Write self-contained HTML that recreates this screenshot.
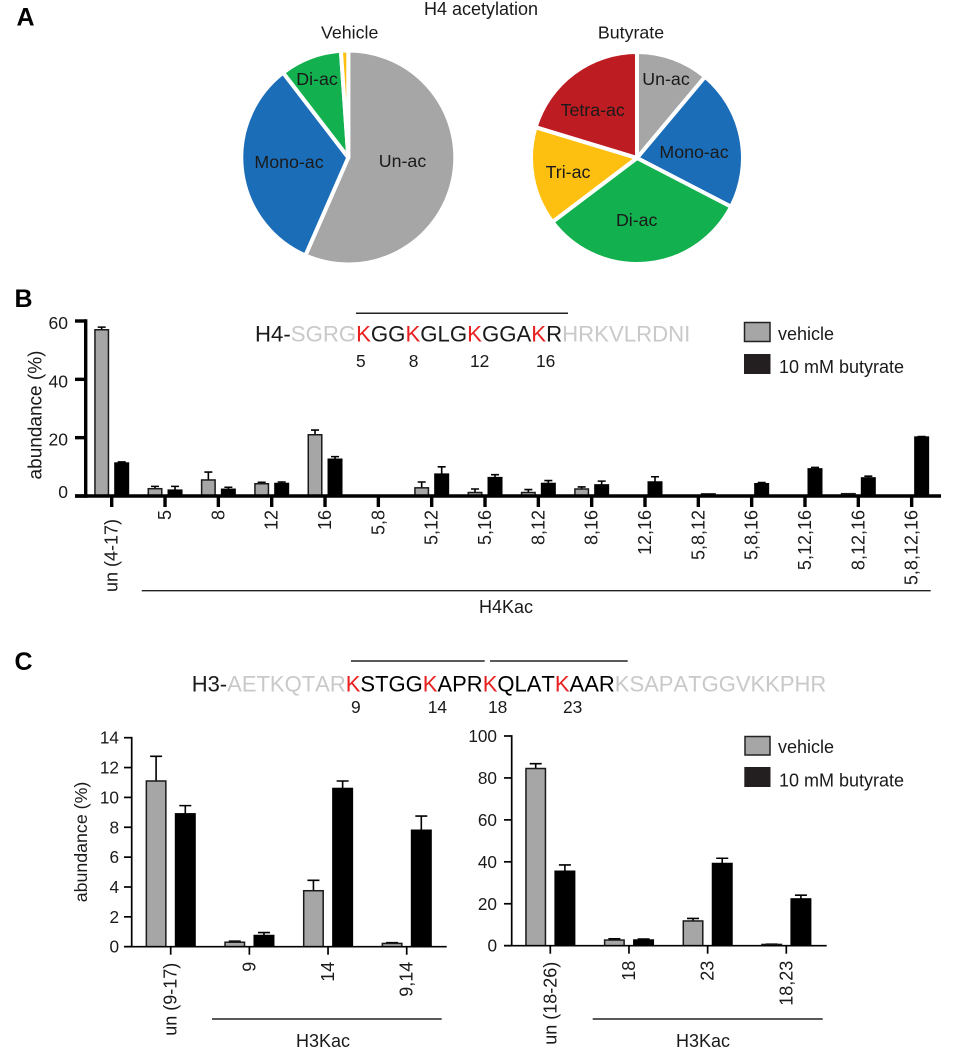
<!DOCTYPE html>
<html>
<head>
<meta charset="utf-8">
<style>
html,body{margin:0;padding:0;background:#fff;}
svg{display:block;filter:blur(0.35px);}
text{font-family:"Liberation Sans",Arial,sans-serif;fill:#1a1a1a;}
.seq{font-kerning:none;}
</style>
</head>
<body>
<svg id="fig" width="966" height="1050" viewBox="0 0 966 1050" xmlns="http://www.w3.org/2000/svg">
<text x="16.5" y="25.7" font-size="25" font-weight="bold" style="fill:#000">A</text>
<text x="14.5" y="307" font-size="25" font-weight="bold" style="fill:#000">B</text>
<text x="14.5" y="670" font-size="25" font-weight="bold" style="fill:#000">C</text>

<text x="481" y="15" font-size="18" text-anchor="middle">H4 acetylation</text>
<text x="349.7" y="38.3" font-size="17.8" text-anchor="middle">Vehicle</text>
<text x="631" y="38.3" font-size="17.8" text-anchor="middle">Butyrate</text>
<g id="pies"></g>
<g font-size="17.8" text-anchor="middle">
<text x="402.5" y="167">Un-ac</text>
<text x="289" y="168">Mono-ac</text>
<text x="317" y="85">Di-ac</text>
<text x="666" y="85">Un-ac</text>
<text x="694" y="158">Mono-ac</text>
<text x="636.7" y="226">Di-ac</text>
<text x="568" y="178">Tri-ac</text>
<text x="592.7" y="116">Tetra-ac</text>
</g>

<line x1="356" y1="313.3" x2="568" y2="313.3" stroke="#222" stroke-width="1.5"/>
<text class="seq" x="255" y="341.7" font-size="22.2"><tspan>H4-</tspan><tspan style="fill:#c9c9c9">SGRG</tspan><tspan style="fill:#e8201f">K</tspan><tspan>GG</tspan><tspan style="fill:#e8201f">K</tspan><tspan>GLG</tspan><tspan style="fill:#e8201f">K</tspan><tspan>GGA</tspan><tspan style="fill:#e8201f">K</tspan><tspan>R</tspan><tspan style="fill:#c9c9c9">HRKVLRDNI</tspan></text>
<g font-size="17.4">
<text x="356" y="367">5</text>
<text x="408.7" y="367">8</text>
<text x="470" y="367">12</text>
<text x="536" y="367">16</text>
</g>
<g>
<rect x="744.5" y="322.5" width="25.5" height="19" fill="#a6a6a6" stroke="#222" stroke-width="1.5"/>
<text x="778" y="340" font-size="18">vehicle</text>
<rect x="744" y="354" width="26.5" height="20" fill="#231f20"/>
<text x="779" y="373" font-size="18">10 mM butyrate</text>
</g>
<g id="chartB"></g>
<text transform="translate(41.7,415) rotate(-90)" font-size="19" text-anchor="middle">abundance (%)</text>
<line x1="141.7" y1="590.7" x2="930.7" y2="590.7" stroke="#222" stroke-width="1.4"/>
<text x="506" y="613" font-size="18" text-anchor="middle">H4Kac</text>

<line x1="351" y1="661" x2="484.7" y2="661" stroke="#222" stroke-width="1.4"/>
<line x1="490" y1="661" x2="627.7" y2="661" stroke="#222" stroke-width="1.4"/>
<text class="seq" x="191.7" y="691.7" font-size="22"><tspan>H3-</tspan><tspan style="fill:#c9c9c9">AETKQTAR</tspan><tspan style="fill:#e8201f">K</tspan><tspan style="fill:#000">STGG</tspan><tspan style="fill:#e8201f">K</tspan><tspan style="fill:#000">APR</tspan><tspan style="fill:#e8201f">K</tspan><tspan style="fill:#000">QLAT</tspan><tspan style="fill:#e8201f">K</tspan><tspan style="fill:#000">AAR</tspan><tspan style="fill:#c9c9c9">KSAPATGGVKKPHR</tspan></text>
<g font-size="17.4">
<text x="351" y="713">9</text>
<text x="427.7" y="713">14</text>
<text x="488" y="713">18</text>
<text x="563" y="713">23</text>
</g>
<g>
<rect x="745" y="736.5" width="25" height="18.5" fill="#a6a6a6" stroke="#222" stroke-width="1.5"/>
<text x="778" y="753" font-size="18">vehicle</text>
<rect x="744.3" y="767" width="26.2" height="20" fill="#231f20"/>
<text x="779" y="786.7" font-size="18">10 mM butyrate</text>
</g>
<g id="chartCL"></g>
<text transform="translate(87,842) rotate(-90)" font-size="17.8" text-anchor="middle">abundance (%)</text>
<line x1="212" y1="1019" x2="441.7" y2="1019" stroke="#222" stroke-width="1.4"/>
<text x="323" y="1047" font-size="18" text-anchor="middle">H3Kac</text>
<g id="chartCR"></g>
<line x1="592.7" y1="1019" x2="822.7" y2="1019" stroke="#222" stroke-width="1.4"/>
<text x="703" y="1047" font-size="18" text-anchor="middle">H3Kac</text>
</svg>
<script>
// Pie data (percent)
const pieVehicleValues = [56.4, 32.9, 9.3, 1.1];
const pieButyrateValues = [11.1, 21.5, 32.1, 15.0, 20.3];
const pieNames = ['un-ac', 'mono-ac', 'di-ac', 'tri-ac', 'tetra-ac'];
const pieColors = ['#a6a6a6', '#1b6db8', '#12b04e', '#fdc010', '#bd1c22'];

// Panel B data
const bCategories = ['un (4-17)', '5', '8', '12', '16', '5,8', '5,12', '5,16', '8,12', '8,16', '12,16', '5,8,12', '5,8,16', '5,12,16', '8,12,16', '5,8,12,16'];
const bVehicle = [57, 2.5, 5.5, 4.2, 21, 0, 2.8, 1.2, 1.2, 2.4, 0.2, 0.2, 0.1, 0, 0.8, 0.2];
const bVehicleErr = [0.9, 0.8, 2.7, 0.5, 1.6, 0, 2, 1.2, 1, 0.7, 0, 0, 0, 0, 0, 0];
const bButyrate = [11.3, 2, 2.3, 4.3, 12.6, 0, 7.5, 6.3, 4.3, 3.8, 4.8, 0.7, 4.2, 9.3, 6.2, 20.2];
const bButyrateErr = [0.4, 1.3, 0.7, 0.5, 0.9, 0, 2.5, 1, 1, 1.3, 1.8, 0, 0.4, 0.5, 0.6, 0.2];
const bTicks = [0, 20, 40, 60];

// Panel C left data
const clCategories = ['un (9-17)', '9', '14', '9,14'];
const clVehicle = [11.1, 0.3, 3.75, 0.22];
const clVehicleErr = [1.65, 0.07, 0.7, 0.05];
const clButyrate = [8.9, 0.75, 10.6, 7.8];
const clButyrateErr = [0.55, 0.2, 0.5, 0.95];
const clTicks = [0, 2, 4, 6, 8, 10, 12, 14];

// Panel C right data
const crCategories = ['un (18-26)', '18', '23', '18,23'];
const crVehicle = [84.5, 2.7, 11.8, 0.6];
const crVehicleErr = [2.3, 0.6, 1.2, 0.1];
const crButyrate = [35.5, 2.7, 39.2, 22.3];
const crButyrateErr = [3, 0.5, 2.5, 1.8];
const crTicks = [0, 20, 40, 60, 80, 100];

const NS = 'http://www.w3.org/2000/svg';
function make(parent, tag, attrs) {
  const el = document.createElementNS(NS, tag);
  for (const k in attrs) el.setAttribute(k, attrs[k]);
  parent.appendChild(el);
  return el;
}

function drawPie(parent, cx, cy, r, values, label) {
  const total = values.reduce((a, b) => a + b, 0);
  let acc = 0;
  values.forEach((v, i) => {
    const a0 = acc / total * 2 * Math.PI;
    acc += v;
    const a1 = acc / total * 2 * Math.PI;
    const x0 = cx + r * Math.sin(a0), y0 = cy - r * Math.cos(a0);
    const x1 = cx + r * Math.sin(a1), y1 = cy - r * Math.cos(a1);
    const large = a1 - a0 > Math.PI ? 1 : 0;
    const p = make(parent, 'path', {
      d: `M${cx} ${cy}L${x0} ${y0}A${r} ${r} 0 ${large} 1 ${x1} ${y1}Z`,
      fill: pieColors[i], stroke: '#fff', 'stroke-width': 4, 'stroke-linejoin': 'round'
    });
    
    
  });
}

const pies = document.getElementById('pies');
drawPie(pies, 348.3, 157.5, 107, pieVehicleValues, 'vehicle');
drawPie(pies, 637, 158, 106, pieButyrateValues, 'butyrate');

function drawBars(cfg) {
  const g = cfg.group;
  const y = v => cfg.y0 - v * cfg.pxPerUnit;
  const x = i => cfg.x0 + i * cfg.step;
  const sw = cfg.axisWidth;

  function drawBar(i, off, val, err, fill, stroke, name) {
    const cx = x(i) + off, w = cfg.barW;
    if (err > 0) {
      const e = make(g, 'path', {
        d: `M${cx} ${y(val)}V${y(val + err)}M${cx - cfg.capW / 2} ${y(val + err)}H${cx + cfg.capW / 2}`,
        stroke: '#000', 'stroke-width': cfg.errW, fill: 'none'
      });
      
      
    }
    const b = make(g, 'rect', {
      x: cx - w / 2, y: y(val), width: w, height: Math.max(cfg.y0 - y(val), 0),
      fill: fill, stroke: stroke, 'stroke-width': 1.5
    });
    
    
  }

  cfg.categories.forEach((c, i) => {
    drawBar(i, -cfg.off, cfg.vehicle[i], cfg.vehicleErr[i], '#a6a6a6', '#1a1a1a', 'vehicle');
    drawBar(i, cfg.off, cfg.butyrate[i], cfg.butyrateErr[i], '#000', '#000', 'butyrate');
  });

  const yAxis = make(g, 'line', {
    x1: cfg.axisX, x2: cfg.axisX, y1: y(cfg.ticks[cfg.ticks.length - 1]) - sw / 2, y2: cfg.y0 + sw / 2,
    stroke: '#000', 'stroke-width': sw
  });
  
  
  const xAxis = make(g, 'line', {
    x1: cfg.tickLeft, x2: cfg.xEnd, y1: cfg.y0, y2: cfg.y0, stroke: '#000', 'stroke-width': sw
  });
  
  

  cfg.ticks.forEach(t => {
    const tick = make(g, 'line', {
      x1: cfg.tickLeft, x2: cfg.axisX, y1: y(t), y2: y(t), stroke: '#000', 'stroke-width': sw
    });
    
    
    const lab = make(g, 'text', {
      x: cfg.tickLeft - cfg.yLabelGap, y: y(t) + 6 + (t === 0 ? cfg.yZeroShift : cfg.yLabelShift),
      'text-anchor': 'end', 'font-size': cfg.yFont
    });
    lab.textContent = t;
    
    
  });

  cfg.categories.forEach((c, i) => {
    const tick = make(g, 'line', {
      x1: x(i), x2: x(i), y1: cfg.y0, y2: cfg.y0 + cfg.tickLen, stroke: '#000', 'stroke-width': sw
    });
    
    
    const lab = make(g, 'text', {
      transform: `translate(${x(i) + 6},${cfg.y0 + cfg.labelGap + (i === 0 ? cfg.firstLabelExtra : 0)}) rotate(-90)`,
      'text-anchor': 'end', 'font-size': cfg.xFont
    });
    lab.textContent = c;
    
    
  });
}

drawBars({
  group: document.getElementById('chartB'),
  categories: bCategories, vehicle: bVehicle, vehicleErr: bVehicleErr,
  butyrate: bButyrate, butyrateErr: bButyrateErr, ticks: bTicks,
  y0: 496, pxPerUnit: 175 / 60, x0: 111.7, step: 53.33, off: 10, barW: 13.5,
  capW: 8, errW: 1.6, axisX: 85.7, tickLeft: 75, xEnd: 941, axisWidth: 3.4,
  tickLen: 11, labelGap: 14, firstLabelExtra: 9, xFont: 18, yFont: 17.5,
  yLabelGap: 7, yLabelShift: 2, yZeroShift: -4
});
drawBars({
  group: document.getElementById('chartCL'),
  categories: clCategories, vehicle: clVehicle, vehicleErr: clVehicleErr,
  butyrate: clButyrate, butyrateErr: clButyrateErr, ticks: clTicks,
  y0: 946.7, pxPerUnit: 209 / 14, x0: 170.7, step: 78.67, off: 14.6, barW: 19.5,
  capW: 12, errW: 1.6, axisX: 131.7, tickLeft: 124, xEnd: 446.7, axisWidth: 1.7,
  tickLen: 8, labelGap: 15, firstLabelExtra: 1, xFont: 18, yFont: 17.2,
  yLabelGap: 5, yLabelShift: 0, yZeroShift: 0
});
drawBars({
  group: document.getElementById('chartCR'),
  categories: crCategories, vehicle: crVehicle, vehicleErr: crVehicleErr,
  butyrate: crButyrate, butyrateErr: crButyrateErr, ticks: crTicks,
  y0: 945.7, pxPerUnit: 209.7 / 100, x0: 550.3, step: 78.67, off: 14.6, barW: 19.5,
  capW: 12, errW: 1.6, axisX: 511.7, tickLeft: 504, xEnd: 826.7, axisWidth: 1.7,
  tickLen: 8, labelGap: 15, firstLabelExtra: 1, xFont: 18, yFont: 17.2,
  yLabelGap: 7, yLabelShift: 0, yZeroShift: 0
});
</script>
</body>
</html>
